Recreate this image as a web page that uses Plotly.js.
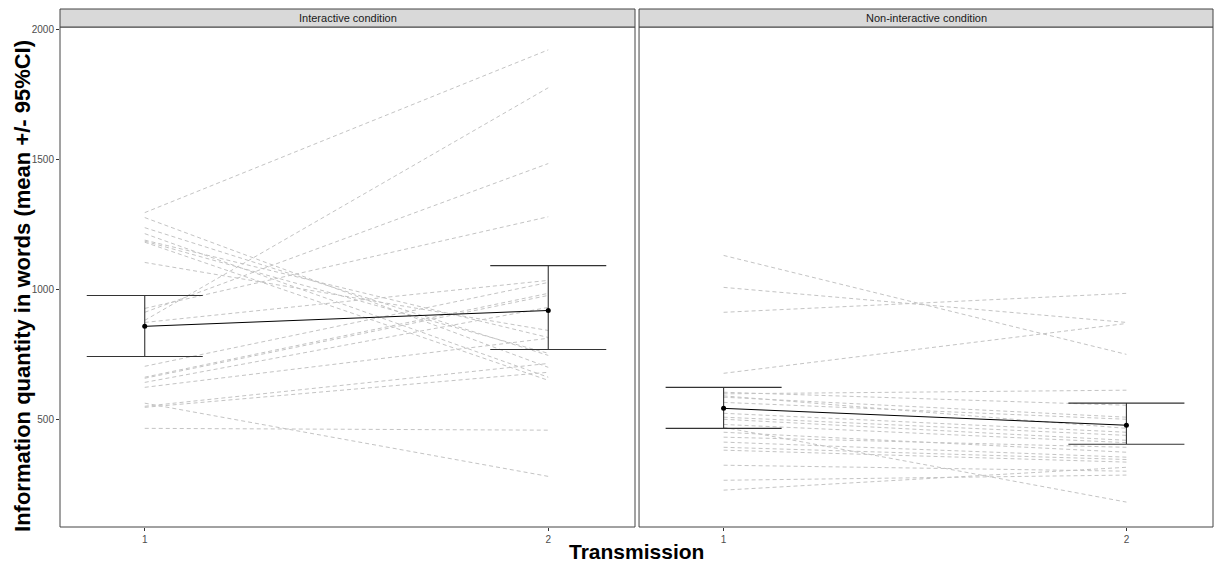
<!DOCTYPE html>
<html>
<head>
<meta charset="utf-8">
<script src="https://cdn.plot.ly/plotly-3.0.1.min.js"></script>
<style>html,body{margin:0;padding:0;background:#fff;}#chart{width:1220px;height:563px;}</style>
</head>
<body>
<div id="chart"></div>
<script>
// Panel names
const panels = ["Interactive condition", "Non-interactive condition"];
const transmission = [1, 2];

// Individual trajectories (value at transmission 1, value at transmission 2)
const interT1 = [1296, 1277, 1238, 1215, 1190, 1186, 1182, 1104, 927, 912, 881, 873, 704, 662, 658, 642, 623, 562, 550, 546, 465];
const interT2 = [1923, 700, 746, 662, 815, 754, 650, 842, 1280, 1485, 1777, 1035, 1027, 985, 977, 931, 812, 280, 715, 681, 458];

const nonT1 = [1131, 1008, 912, 677, 604, 598, 590, 585, 565, 523, 508, 500, 480, 450, 431, 412, 392, 381, 323, 469, 265, 227];
const nonT2 = [750, 873, 985, 869, 554, 612, 465, 508, 500, 450, 438, 419, 410, 373, 392, 354, 345, 335, 300, 181, 285, 315];

// Means and 95% CI
const interMean = [858, 919];
const interLow = [742, 769];
const interHigh = [977, 1092];
const nonMean = [542, 477];
const nonLow = [465, 404];
const nonHigh = [623, 562];

function indivTrace(t1, t2, xa, ya) {
  const xs = [], ys = [];
  for (let i = 0; i < t1.length; i++) {
    xs.push(transmission[0], transmission[1], null);
    ys.push(t1[i], t2[i], null);
  }
  return {x: xs, y: ys, xaxis: xa, yaxis: ya, type: 'scatter', mode: 'lines',
    line: {color: '#c4c4c4', width: 1, dash: '4px,3px'}, hoverinfo: 'skip', showlegend: false, connectgaps: false};
}
function meanTrace(m, lo, hi, xa, ya) {
  return {x: transmission, y: m, xaxis: xa, yaxis: ya, type: 'scatter', mode: 'lines+markers',
    line: {color: '#000', width: 1}, marker: {color: '#000', size: 5},
    error_y: {type: 'data', symmetric: false,
      array: hi.map((v, i) => v - m[i]), arrayminus: m.map((v, i) => v - lo[i]),
      width: 58, thickness: 1.1, color: '#333'},
    showlegend: false};
}

const data = [
  indivTrace(interT1, interT2, 'x', 'y'),
  indivTrace(nonT1, nonT2, 'x2', 'y2'),
  meanTrace(interMean, interLow, interHigh, 'x', 'y'),
  meanTrace(nonMean, nonLow, nonHigh, 'x2', 'y2')
];

const xcommon = {range: [0.79, 2.215], tickvals: transmission, ticktext: ['1', '2'], showgrid: false, zeroline: false,
  showline: false, ticks: 'outside', ticklen: 3, tickcolor: '#333', tickfont: {family: 'Liberation Sans Narrow, Liberation Sans, Arial', size: 10, color: '#4d4d4d'}};
const ycommon = {range: [85, 2011], tickvals: [500, 1000, 1500, 2000], showgrid: false, zeroline: false, showline: false,
  ticks: 'outside', ticklen: 3, tickcolor: '#333', tickfont: {family: 'Liberation Sans, Arial', size: 10, color: '#4d4d4d'}};

const d1 = [0, 0.4987], d2 = [0.5022, 1];
const stripTop = 1 + 18 / 500;

const layout = {
  width: 1220, height: 563,
  margin: {l: 60, r: 7, t: 27, b: 36},
  paper_bgcolor: '#fff', plot_bgcolor: '#fff',
  xaxis: Object.assign({}, xcommon, {domain: d1, anchor: 'y'}),
  yaxis: Object.assign({}, ycommon, {domain: [0, 1], anchor: 'x'}),
  xaxis2: Object.assign({}, xcommon, {domain: d2, anchor: 'y2'}),
  yaxis2: Object.assign({}, ycommon, {domain: [0, 1], anchor: 'x2', showticklabels: false, ticks: ''}),
  shapes: [
    {type: 'rect', xref: 'paper', yref: 'paper', x0: d1[0], x1: d1[1], y0: 0, y1: 1, line: {color: '#444', width: 1}},
    {type: 'rect', xref: 'paper', yref: 'paper', x0: d2[0], x1: d2[1], y0: 0, y1: 1, line: {color: '#444', width: 1}},
    {type: 'rect', xref: 'paper', yref: 'paper', x0: d1[0], x1: d1[1], y0: 1, y1: stripTop, fillcolor: '#d9d9d9', line: {color: '#444', width: 1}},
    {type: 'rect', xref: 'paper', yref: 'paper', x0: d2[0], x1: d2[1], y0: 1, y1: stripTop, fillcolor: '#d9d9d9', line: {color: '#444', width: 1}}
  ],
  annotations: [
    {text: panels[0], xref: 'paper', yref: 'paper', x: (d1[0] + d1[1]) / 2, y: (1 + stripTop) / 2, showarrow: false,
      xanchor: 'center', yanchor: 'middle', font: {family: 'Liberation Sans, Arial', size: 11, color: '#1a1a1a'}},
    {text: panels[1], xref: 'paper', yref: 'paper', x: (d2[0] + d2[1]) / 2, y: (1 + stripTop) / 2, showarrow: false,
      xanchor: 'center', yanchor: 'middle', font: {family: 'Liberation Sans, Arial', size: 11, color: '#1a1a1a'}},
    {text: '<b>Transmission</b>', xref: 'paper', yref: 'paper', x: 0.5, y: -0.048, showarrow: false,
      xanchor: 'center', yanchor: 'middle', font: {family: 'Liberation Sans, Arial', size: 21, color: '#000'}},
    {text: '<b>Information quantity in words (mean +/- 95%CI)</b>', xref: 'paper', yref: 'paper', x: -0.033, y: 0.482,
      textangle: -90, showarrow: false, xanchor: 'center', yanchor: 'middle',
      font: {family: 'Liberation Sans, Arial', size: 22, color: '#000'}}
  ]
};

Plotly.newPlot('chart', data, layout, {displayModeBar: false, staticPlot: true});
</script>
</body>
</html>
